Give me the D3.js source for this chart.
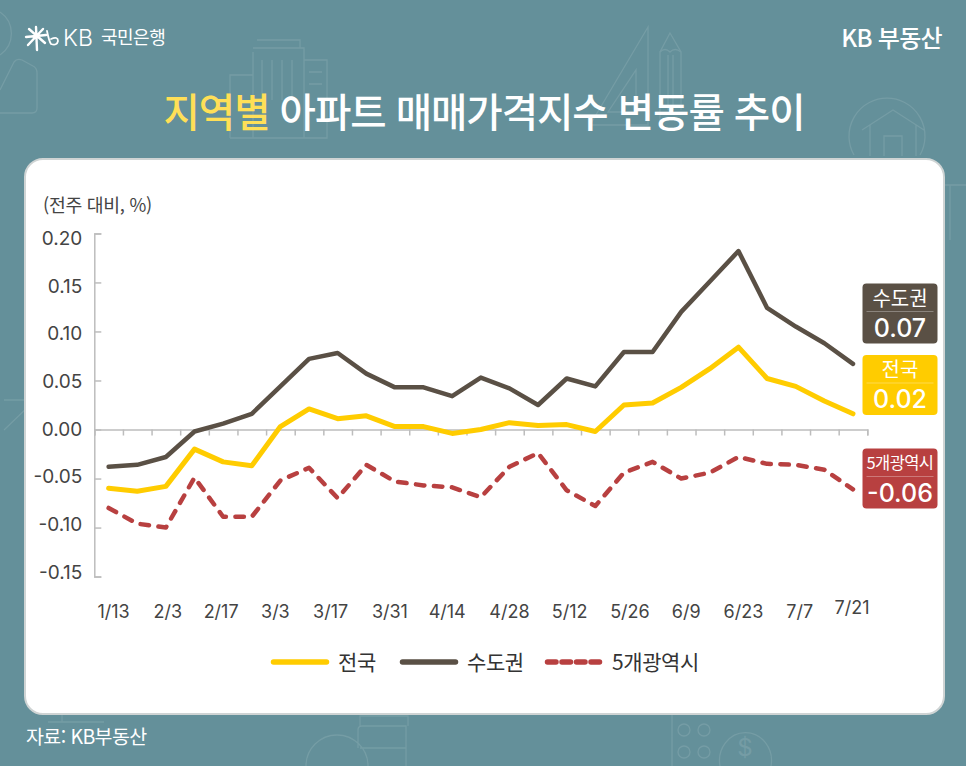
<!DOCTYPE html>
<html lang="ko">
<head>
<meta charset="utf-8">
<script src="https://cdn.jsdelivr.net/npm/d3@7"></script>
<style>
  html, body { margin: 0; padding: 0; background: #64909a; }
  svg { display: block; }
  text { font-family: Inter, 'Noto Sans CJK KR', sans-serif; }
  .kr { font-family: 'Noto Sans CJK KR', sans-serif; }
</style>
</head>
<body>
<svg id="chart"></svg>
<script>
// weeks (1/27 has no survey, so it is not in the list)
const weeks = ['1/13', '1/20', '2/3', '2/10', '2/17', '2/24', '3/3', '3/10', '3/17', '3/24', '3/31', '4/7', '4/14', '4/21',
  '4/28', '5/5', '5/12', '5/19', '5/26', '6/2', '6/9', '6/16', '6/23', '6/30', '7/7', '7/14', '7/21'];
const labelledWeeks = ['1/13', '2/3', '2/17', '3/3', '3/17', '3/31', '4/14', '4/28', '5/12', '5/26', '6/9', '6/23', '7/7', '7/21'];

const national = [-0.060, -0.063, -0.058, -0.020, -0.033, -0.037, 0.003, 0.021, 0.011, 0.014, 0.003, 0.003, -0.004, 0.000,
  0.007, 0.004, 0.005, -0.002, 0.025, 0.027, 0.043, 0.062, 0.084, 0.052, 0.044, 0.029, 0.016];
const capital = [-0.038, -0.036, -0.028, -0.002, 0.006, 0.016, 0.044, 0.072, 0.078, 0.057, 0.043, 0.043, 0.034, 0.053,
  0.042, 0.025, 0.052, 0.044, 0.079, 0.079, 0.120, 0.151, 0.182, 0.124, 0.105, 0.088, 0.067];
const metro = [-0.080, -0.096, -0.100, -0.049, -0.089, -0.089, -0.052, -0.039, -0.070, -0.036, -0.053, -0.057, -0.059, -0.069,
  -0.038, -0.024, -0.062, -0.078, -0.044, -0.033, -0.050, -0.044, -0.028, -0.035, -0.036, -0.041, -0.061];

const yTicks = [0.20, 0.15, 0.10, 0.05, 0.00, -0.05, -0.10, -0.15];

const seriesNames = ['전국', '수도권', '5개광역시'];
const endLabels = ['0.02', '0.07', '-0.06'];

const w = 966;
const h = 766;

const yellow = '#ffcc00';
const brown = '#5a5045';
const red = '#b84040';
const axisGray = '#bdbdbd';
const textDark = '#444444';

const svg = d3.select('#chart').attr('width', w).attr('height', h).attr('viewBox', `0 0 ${w} ${h}`);

svg.append('rect').attr('width', w).attr('height', h).attr('fill', '#64909a');

// faint icons behind everything
const deco = svg.append('g').attr('fill', 'none').attr('stroke', '#86a9b0').attr('stroke-width', 1.3).attr('opacity', 0.5);
const decoPaths = [
  // person top left
  'M0 12 A26 26 0 0 1 0 55', 'M0 90 L14 62 Q17 58 22 60 L33 66 Q37 68 37 73 V108 Q37 113 32 113 H0',
  // buildings
  'M253 52 V138 M253 48 H304 V138 M257 40 H300 V48 M230 138 V75 H253 M304 60 H327 V138 H230',
  'M262 60 V100 M272 60 V100 M282 60 V100 M292 60 V100 M309 72 H322 M309 84 H322',
  // ruler and pencil
  'M648 27 V125 H590 Z M636 70 V112 H608 Z M660 125 V52 L670 33 L681 52 V110',
  'M660 52 Q665 47 670 52 Q675 47 681 52 M668 55 V110 M673 55 V110',
  // house in a circle
  'M854 155 A38 38 0 1 1 920 155 M862 130 L893 110 L924 130 M870 125 V156 M916 125 V156 M884 156 V136 H902 V156',
  // bottom left and bottom right icons
  'M4 430 L30 405 M4 400 H25 V430', 'M943 185 H966 M950 185 V240',
  'M62 714 V722 M48 722 H104 M54 714 H98',
  'M306 766 A30 30 0 0 1 368 766 M358 748 V730 Q358 726 362 726 H406 V748 M360 726 V716 H408 V726 M360 748 H406 V766',
  'M672 714 V766 M678 730 A6 6 0 1 0 690 730 A6 6 0 1 0 678 730 M698 730 A6 6 0 1 0 710 730 A6 6 0 1 0 698 730',
  'M678 752 A6 6 0 1 0 690 752 A6 6 0 1 0 678 752 M698 752 A6 6 0 1 0 710 752 A6 6 0 1 0 698 752',
  'M720 766 A26 28 0 1 1 771 766'
];
deco.selectAll('path').data(decoPaths).enter().append('path').attr('d', (d) => d);
svg.append('text').attr('x', 745).attr('y', 756).attr('text-anchor', 'middle').attr('font-size', 24)
  .attr('fill', '#86a9b0').attr('opacity', 0.5).text('$');

// header
const logo = svg.append('g').attr('stroke', '#fff').attr('fill', 'none').attr('stroke-linecap', 'round');
logo.append('path').attr('stroke-width', 2.4)
  .attr('d', 'M26 37 L46 35 M29 29 L45 43 M28 45 L43 29 M36 27 L37 50');
logo.append('path').attr('stroke-width', 1.8)
  .attr('d', 'M47 31 Q49 41 51 44 Q57 46 58 41 Q58 36 51 39');
svg.append('text').attr('x', 63).attr('y', 46).attr('font-size', 23).attr('font-weight', 300).attr('fill', '#fff').text('KB');
svg.append('text').attr('class', 'kr').attr('x', 101).attr('y', 44).attr('font-size', 18).attr('fill', '#fff')
  .attr('letter-spacing', -0.5).text('국민은행');
svg.append('text').attr('class', 'kr').attr('x', 942).attr('y', 47).attr('text-anchor', 'end').attr('font-size', 24)
  .attr('font-weight', 500).attr('fill', '#fff').attr('letter-spacing', -0.7).text('KB 부동산');

const title = svg.append('text').attr('class', 'kr').attr('x', 484).attr('y', 127).attr('text-anchor', 'middle')
  .attr('font-size', 39.5).attr('font-weight', 500).attr('letter-spacing', -1).attr('fill', '#fff');
title.append('tspan').attr('fill', '#ffdf57').text('지역별');
title.append('tspan').text(' 아파트 매매가격지수 변동률 추이');

svg.append('text').attr('class', 'kr').attr('x', 26).attr('y', 744).attr('font-size', 19.5).attr('fill', '#fff')
  .attr('letter-spacing', -0.6).text('자료: KB부동산');

// card
svg.append('rect').attr('x', 25).attr('y', 159).attr('width', 919).attr('height', 555).attr('rx', 18)
  .attr('fill', '#fff').attr('stroke', '#cfd4d4').attr('stroke-width', 2);

svg.append('text').attr('class', 'kr').attr('x', 43).attr('y', 212).attr('font-size', 18.3).attr('fill', textDark)
  .attr('letter-spacing', -0.3).text('(전주 대비, %)');

// scales
const xBand = d3.scaleBand().domain(weeks).range([94.3, 867.3]);
const xMid = (d) => xBand(d) + xBand.bandwidth() / 2;
const y = d3.scaleLinear().domain([-0.15, 0.20]).range([576.6, 233.4]);

// y axis, ticks point into the plot
const yAxis = d3.axisRight(y).tickValues(yTicks).tickSize(7).tickFormat((d) => d.toFixed(2));
const yG = svg.append('g').attr('transform', `translate(${xBand.range()[0]}, 0)`).call(yAxis);
yG.select('.domain').attr('stroke', axisGray).attr('stroke-width', 1.5);
yG.selectAll('.tick line').attr('stroke', axisGray).attr('stroke-width', 1.5);
// the labels are spaced a bit tighter than the ticks in the original
yG.selectAll('.tick text').attr('x', -12).attr('y', (d, i) => 4.6 - 1.4 * i).attr('text-anchor', 'end').attr('font-size', 19)
  .attr('font-family', 'Inter, sans-serif').attr('fill', textDark).attr('dy', '0.35em');

// x axis at zero, ticks on the band edges
const xEdges = d3.scaleLinear().domain([0, weeks.length]).range(xBand.range());
const xAxis = d3.axisBottom(xEdges).ticks(weeks.length).tickSize(6).tickFormat('').tickSizeOuter(6);
const xG = svg.append('g').attr('transform', `translate(0, ${y(0)})`).call(xAxis);
xG.select('.domain').attr('stroke', axisGray).attr('stroke-width', 1.5);
xG.selectAll('.tick line').attr('stroke', axisGray).attr('stroke-width', 1.5);

// the labels sit a little off their points in the original
const labelNudge = [5, 2, -2, -5, -7, -5, -5, 0, 3, 6, 5, 5, 4, -1];
svg.selectAll('.week').data(labelledWeeks).enter().append('text')
  .attr('class', 'week')
  .attr('x', (d, i) => xMid(d) + labelNudge[i])
  .attr('y', (d, i) => (i === labelledWeeks.length - 1 ? 614 : 618))
  .attr('text-anchor', 'middle').attr('font-size', 18).attr('fill', textDark)
  .text((d) => d);

// lines
const line = d3.line().x((d, i) => xMid(weeks[i])).y((d) => y(d));
const seriesData = [national, capital, metro];
const seriesColors = [yellow, brown, red];
const seriesWidth = [5, 4.5, 4.5];
const seriesDash = [null, null, '8.5 9.5'];

svg.selectAll('.series').data(seriesData).enter().append('path')
  .attr('class', 'series')
  .attr('d', line)
  .attr('fill', 'none')
  .attr('stroke', (d, i) => seriesColors[i])
  .attr('stroke-width', (d, i) => seriesWidth[i])
  .attr('stroke-linejoin', 'round')
  .attr('stroke-linecap', 'round')
  .attr('stroke-dasharray', (d, i) => seriesDash[i]);

// end badges
const badgeOrder = [1, 0, 2];
const badgeTop = [283.5, 355, 448.5];
const badges = svg.selectAll('.badge').data(badgeOrder).enter().append('g')
  .attr('class', 'badge')
  .attr('transform', (d, i) => `translate(862.5, ${badgeTop[i]})`);
badges.append('rect').attr('width', 75).attr('height', 60).attr('rx', 4).attr('fill', (d) => seriesColors[d]);
badges.append('line').attr('x1', 4).attr('x2', 71).attr('y1', 28).attr('y2', 28)
  .attr('stroke', '#fff').attr('stroke-opacity', 0.3).attr('stroke-width', 1);
badges.append('text').attr('class', 'kr').attr('x', 37.5).attr('y', (d) => (d === 2 ? 20 : 22)).attr('text-anchor', 'middle')
  .attr('font-size', (d) => (d === 2 ? 16.5 : 20)).attr('fill', '#fff').attr('letter-spacing', (d) => (d === 2 ? -0.6 : 0))
  .text((d) => seriesNames[d]);
badges.append('text').attr('x', 37.5).attr('y', 53).attr('text-anchor', 'middle').attr('font-size', 25)
  .attr('font-weight', 500).attr('fill', '#fff').text((d) => endLabels[d]);

// legend
const legendX = [271, 400, 545];
const legend = svg.selectAll('.legend').data(seriesNames).enter().append('g')
  .attr('class', 'legend')
  .attr('transform', (d, i) => `translate(${legendX[i]}, 662)`);
legend.append('line').attr('x1', 2.5).attr('x2', 55.5).attr('y1', 0).attr('y2', 0)
  .attr('stroke', (d, i) => seriesColors[i]).attr('stroke-width', 5.5).attr('stroke-linecap', 'round')
  .attr('stroke-dasharray', (d, i) => (i === 2 ? '8.5 6' : null));
legend.append('text').attr('class', 'kr').attr('x', 67).attr('y', 7.5).attr('font-size', 21).attr('fill', '#333')
  .attr('letter-spacing', -0.4).text((d) => d);
</script>
</body>
</html>
